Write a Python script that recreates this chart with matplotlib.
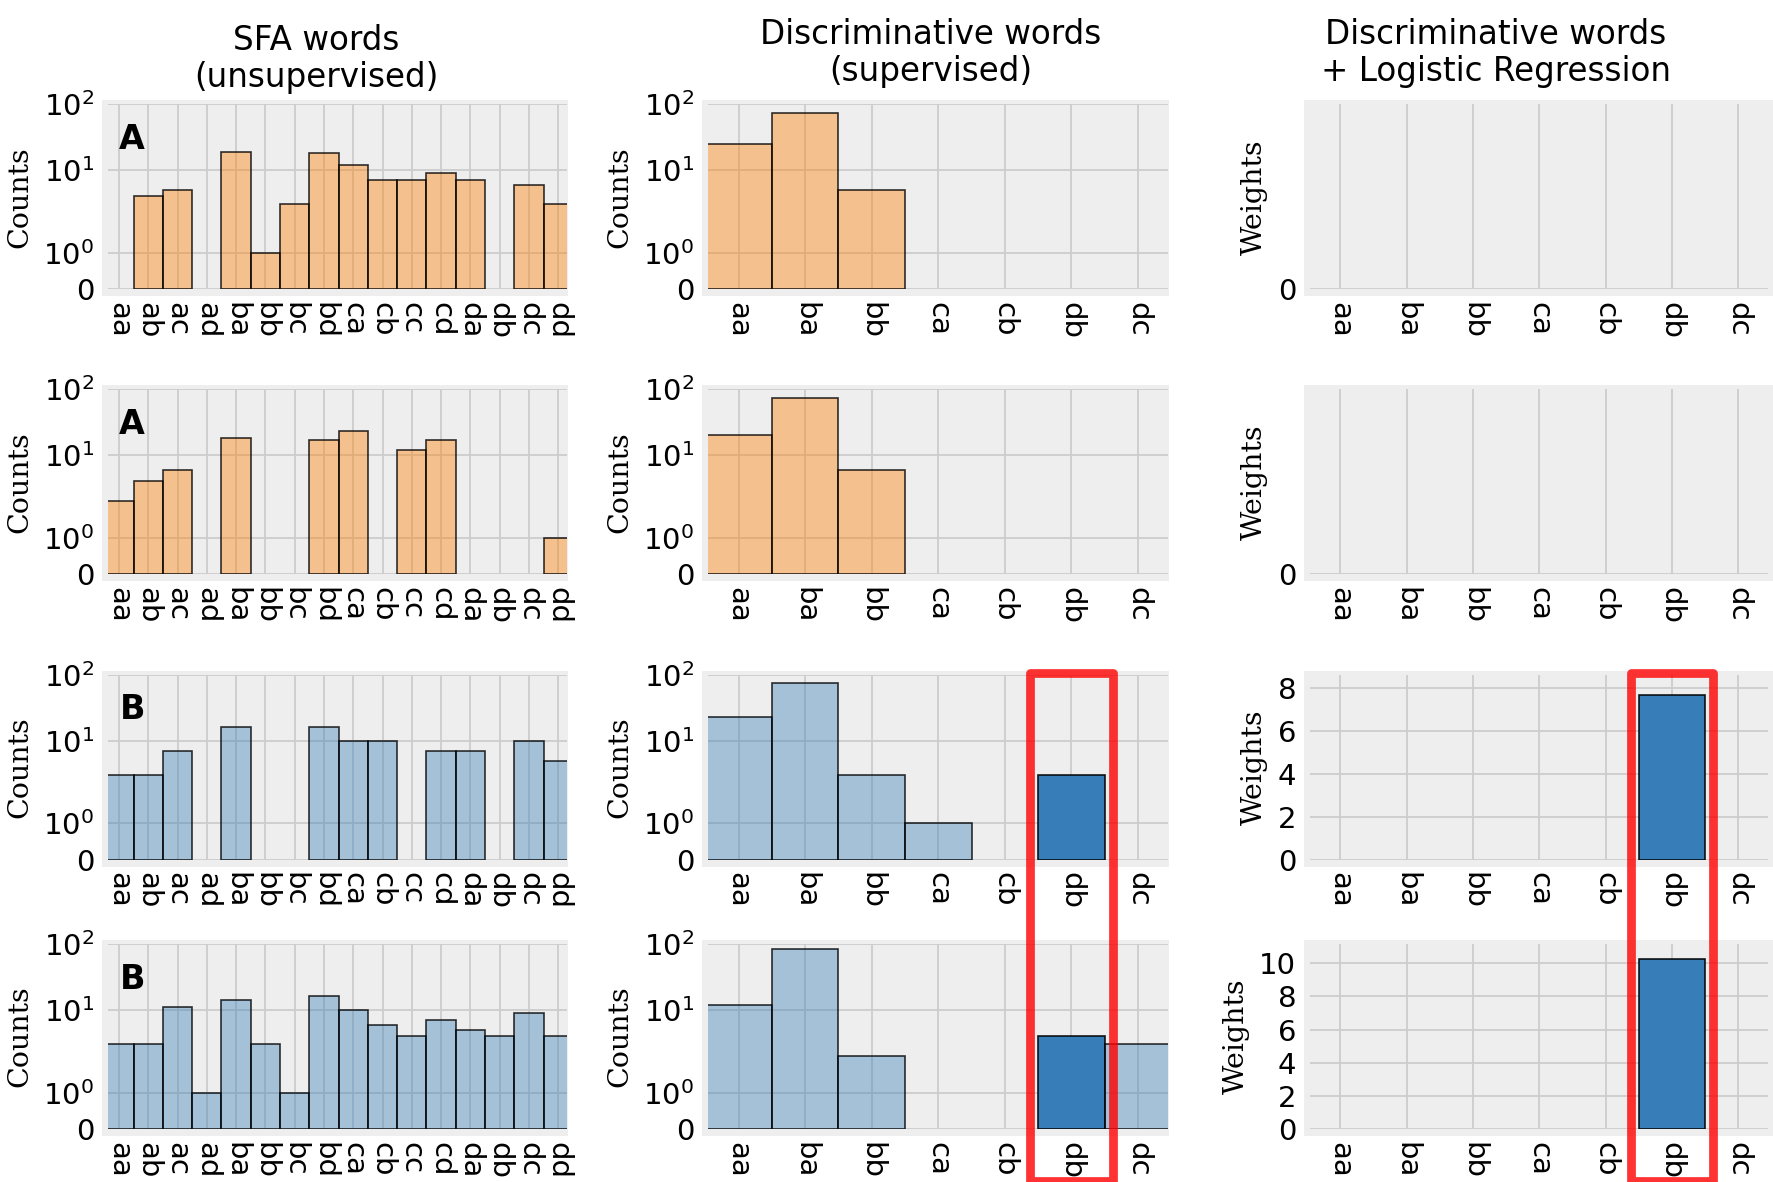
import matplotlib
matplotlib.use('Agg')
import matplotlib.pyplot as plt
import matplotlib.transforms as mtransforms
from matplotlib.patches import Rectangle
from matplotlib.colors import to_rgba

# ---------------- data ----------------
words_all = ['aa', 'ab', 'ac', 'ad', 'ba', 'bb', 'bc', 'bd',
             'ca', 'cb', 'cc', 'cd', 'da', 'db', 'dc', 'dd']
words_disc = ['aa', 'ba', 'bb', 'ca', 'cb', 'db', 'dc']

sfa_counts_r1 = [0, 4, 5, 0, 19, 1, 3, 18, 12, 7, 7, 9, 7, 0, 6, 3]
sfa_counts_r2 = [2, 4, 6, 0, 18, 0, 0, 17, 23, 0, 12, 17, 0, 0, 0, 1]
sfa_counts_r3 = [3, 3, 7, 0, 16, 0, 0, 16, 10, 10, 0, 7, 7, 0, 10, 5]
sfa_counts_r4 = [3, 3, 11, 1, 14, 3, 1, 16, 10, 6, 4, 7, 5, 4, 9, 4]

disc_counts_r1 = [25, 74, 5, 0, 0, 0, 0]
disc_counts_r2 = [20, 74, 6, 0, 0, 0, 0]
disc_counts_r3 = [23, 76, 3, 1, 0, 3, 0]
disc_counts_r4 = [12, 83, 2, 0, 0, 4, 3]

lr_weights_r1 = [0, 0, 0, 0, 0, 0, 0]
lr_weights_r2 = [0, 0, 0, 0, 0, 0, 0]
lr_weights_r3 = [0, 0, 0, 0, 0, 7.66, 0]
lr_weights_r4 = [0, 0, 0, 0, 0, 10.24, 0]

row_letters = ['A', 'A', 'B', 'B']
row_classes = ['A', 'A', 'B', 'B']
highlight_word = 'db'

col_titles = ['SFA words\n(unsupervised)',
              'Discriminative words\n(supervised)',
              'Discriminative words\n+ Logistic Regression']

count_ticks = [0, 1, 10, 100]
count_ticklabels = ['0', '$10^0$', '$10^1$', '$10^2$']

# ---------------- style ----------------
W, H = 1773, 1182
DPI = 100
fig = plt.figure(figsize=(W / DPI, H / DPI), dpi=DPI)

class_color = {'A': '#ff7f00', 'B': '#377eb8'}
hl_color = '#377eb8'
bg = '#eeeeee'
grid_c = '#cccccc'
TICK_FS = 21
YLAB_FS = 20.5
TITLE_FS = 23.5

col_left = [108.3, 708.3, 1310.2]
col_right = [567.0, 1167.9, 1768.0]
row_top = [104.1, 389.2, 674.8, 944.0]
row_h = 185.2
xlims = [(-0.365, 15.3), (-0.455, 6.45), (-0.455, 6.45)]

sfa_rows = [sfa_counts_r1, sfa_counts_r2, sfa_counts_r3, sfa_counts_r4]
disc_rows = [disc_counts_r1, disc_counts_r2, disc_counts_r3, disc_counts_r4]
lr_rows = [lr_weights_r1, lr_weights_r2, lr_weights_r3, lr_weights_r4]
lr_ylims = [(0, 1), (0, 1), (0, 8.6), (0, 11.16)]
lr_ticks = [[0], [0], [0, 2, 4, 6, 8], [0, 2, 4, 6, 8, 10]]

axes = [[None] * 3 for _ in range(4)]


def setup_axes(r, c):
    l = col_left[c] / W
    w = (col_right[c] - col_left[c]) / W
    b = 1 - (row_top[r] + row_h) / H
    h = row_h / H
    ax = fig.add_axes([l, b, w, h])
    ax.set_facecolor(bg)
    for s in ax.spines.values():
        s.set_visible(False)
    ax.set_axisbelow(True)
    ax.grid(True, color=grid_c, lw=1.3)
    ax.tick_params(length=0, labelsize=TICK_FS, pad=10)
    ax.tick_params(axis='x', pad=9)
    # extended grey background behind the data area
    ext_r = (W - col_right[c]) if c == 2 else 1.0
    fig.add_artist(Rectangle(((col_left[c] - 6.5) / W, b - 6.5 / H),
                             w + (6.5 + ext_r) / W, h + (6.5 + 4.0) / H,
                             transform=fig.transFigure, facecolor=bg,
                             edgecolor='none', zorder=-1))
    return ax


def draw_bars(ax, words, values, base_color, highlight=None):
    for i, (wd, v) in enumerate(zip(words, values)):
        if v == 0:
            continue
        if highlight is not None and wd == highlight:
            fc = to_rgba(hl_color, 1.0)
            ec = (0, 0, 0, 0.9)
        else:
            fc = to_rgba(base_color, 0.4)
            ec = (0, 0, 0, 0.8)
        ax.bar(i, v, width=1.0, color=fc, edgecolor=ec, linewidth=1.2)


for r in range(4):
    cls = row_classes[r]
    # column 1 : SFA words
    ax = setup_axes(r, 0)
    draw_bars(ax, words_all, sfa_rows[r], class_color[cls])
    ax.set_yscale('symlog', linthresh=2, linscale=1)
    ax.set_ylim(0, 100)
    ax.set_yticks(count_ticks)
    ax.set_yticklabels(count_ticklabels)
    ax.minorticks_off()
    ax.set_xticks(range(len(words_all)))
    ax.set_xticklabels(words_all, rotation=270)
    ax.set_xlim(*xlims[0])
    ax.set_ylabel('Counts', fontsize=YLAB_FS, family='DejaVu Serif', labelpad=7)
    ax.text(0.052, 0.81, row_letters[r], transform=ax.transAxes,
            fontsize=24, fontweight='bold', ha='center', va='center')
    axes[r][0] = ax

    # column 2 : discriminative words
    ax = setup_axes(r, 1)
    hl = highlight_word if cls == 'B' else None
    draw_bars(ax, words_disc, disc_rows[r], class_color[cls], highlight=hl)
    ax.set_yscale('symlog', linthresh=2, linscale=1)
    ax.set_ylim(0, 100)
    ax.set_yticks(count_ticks)
    ax.set_yticklabels(count_ticklabels)
    ax.minorticks_off()
    ax.set_xticks(range(len(words_disc)))
    ax.set_xticklabels(words_disc, rotation=270)
    ax.set_xlim(*xlims[1])
    ax.set_ylabel('Counts', fontsize=YLAB_FS, family='DejaVu Serif', labelpad=7)
    axes[r][1] = ax

    # column 3 : logistic regression weights
    ax = setup_axes(r, 2)
    draw_bars(ax, words_disc, lr_rows[r], class_color[cls], highlight=highlight_word)
    ax.set_ylim(*lr_ylims[r])
    ax.set_yticks(lr_ticks[r])
    ax.set_xticks(range(len(words_disc)))
    ax.set_xticklabels(words_disc, rotation=270)
    ax.set_xlim(*xlims[2])
    ax.set_ylabel('Weights', fontsize=YLAB_FS, family='DejaVu Serif', labelpad=7)
    axes[r][2] = ax

# column titles
title_x = [316 / W, 930.6 / W, 1496 / W]
title_y = [1 - 59 / H, 1 - 53 / H, 1 - 53 / H]
for c in range(3):
    fig.text(title_x[c], title_y[c], col_titles[c], ha='center', va='center',
             fontsize=TITLE_FS, linespacing=1.15)

# red highlight boxes around the discriminative word
hi = words_disc.index(highlight_word)
for c in (1, 2):
    ax = axes[2][c]
    trans = mtransforms.blended_transform_factory(ax.transData, fig.transFigure)
    y_top = 1 - 673.0 / H
    y_bot = 1 - 1181.0 / H
    rect = Rectangle((hi - 0.62, y_bot), 1.24, y_top - y_bot, transform=trans,
                     fill=False, edgecolor='r', alpha=0.8, linewidth=6.3,
                     joinstyle='round', clip_on=False, zorder=10)
    fig.add_artist(rect)

fig.savefig('out.png', dpi=DPI)
